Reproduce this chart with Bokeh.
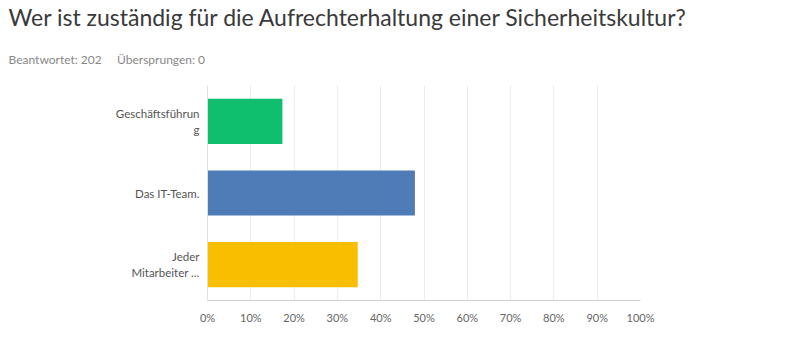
from bokeh.plotting import figure
from bokeh.models import Title, FixedTicker, PrintfTickFormatter
from bokeh.embed import file_html
from bokeh.resources import INLINE

categories = ["Geschäftsführun\ng", "Das IT-Team.", "Jeder\nMitarbeiter ..."]
values = [17.3, 47.9, 34.7]
colors = ["#0FBF6E", "#4F7CB6", "#F9BE00"]
ticks = [0, 10, 20, 30, 40, 50, 60, 70, 80, 90, 100]
title_text = "Wer ist zuständig für die Aufrechterhaltung einer Sicherheitskultur?"
subtitle_text = "Beantwortet: 202\u00a0\u00a0\u00a0\u00a0\u00a0Übersprungen: 0"

p = figure(width=784, height=344, y_range=list(reversed(categories)), x_range=(0, 100),
           output_backend="svg", toolbar_location=None,
           min_border_left=207, min_border_right=144, min_border_top=85, min_border_bottom=44)
p.outline_line_color = None
p.background_fill_color = "white"
p.border_fill_color = "white"

p.hbar(y=categories, right=values, left=0, height=0.63, color=colors, line_color=None)

p.xaxis.ticker = FixedTicker(ticks=ticks)
p.xaxis.formatter = PrintfTickFormatter(format="%d%%")
p.xaxis.major_tick_line_color = None
p.xaxis.minor_tick_line_color = None
p.xaxis.axis_line_color = "#d0d0d0"
p.xaxis.major_label_text_font = "Lato"
p.xaxis.major_label_text_font_size = "11px"
p.xaxis.major_label_text_color = "#666666"
p.xaxis.major_label_standoff = 4

p.yaxis.major_tick_line_color = None
p.yaxis.minor_tick_line_color = None
p.yaxis.axis_line_color = "#e0e0e0"
p.yaxis.major_label_text_font = "Lato"
p.yaxis.major_label_text_font_size = "11.5px"
p.yaxis.major_label_text_color = "#555555"
p.yaxis.major_label_standoff = 2
p.yaxis.major_label_text_align = "right"
p.yaxis.major_label_text_line_height = 1.2

p.ygrid.grid_line_color = None
p.xgrid.grid_line_color = "#ececec"
p.xgrid.ticker = FixedTicker(ticks=ticks)

p.add_layout(Title(text=subtitle_text, align="left", offset=-199, standoff=37,
                   text_font="Lato", text_font_size="12px", text_font_style="normal",
                   text_color="#888888"), "above")
p.add_layout(Title(text=title_text, align="left", offset=-199, standoff=1,
                   text_font="Lato", text_font_size="23px", text_font_style="normal",
                   text_color="#3a3a3a"), "above")

open("out.html", "w").write(file_html(p, INLINE))
